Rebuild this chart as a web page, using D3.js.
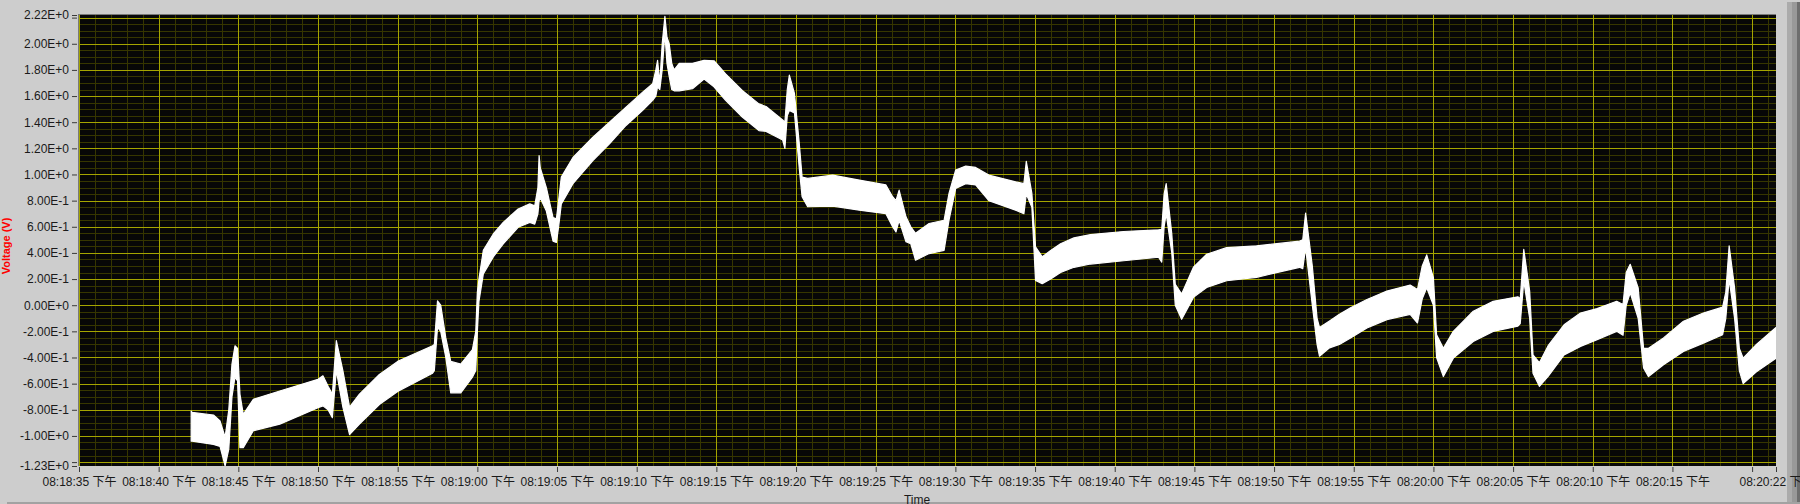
<!DOCTYPE html>
<html><head><meta charset="utf-8">
<script src="https://cdn.jsdelivr.net/npm/d3@7"></script>
<style>html,body{margin:0;padding:0;background:#cdcdcd;overflow:hidden}</style>
</head><body><svg id="c" width="1800" height="504"></svg>
<script>
// ---- data (seconds after 08:18:35 PM) ----
const startClock = [20, 18, 35];
const endSeconds = 106.5;
const timeSec = [7.04,7.1,8.44,8.85,9.17,9.4,9.6,9.79,9.95,10.1,10.31,10.94,12.6,15.0,15.31,15.63,15.9,16.15,16.56,16.98,17.6,18.85,20,22.19,22.3,22.5,22.7,23.02,23.33,23.96,24.69,24.9,25.0,25.1,25.375,26.0,26.625,27.56,28.29,28.6,28.8,28.875,28.95,29.33,29.75,29.96,30.1,30.27,31.0,32.25,33.29,34.33,35.375,36.0,36.2,36.31,36.45,36.6,36.77,36.9,37.04,37.2,37.35,37.67,38.5,39.23,39.85,40.58,41.625,42.67,43.12,44.16,44.3,44.45,44.58,44.9,45.2,45.38,45.73,47.3,48.97,50.64,51.06,51.27,51.47,51.9,52.2,52.5,53.35,54.29,54.6,55.02,55.65,56.27,57.1,58.78,59.3,59.45,59.8,60.03,60.45,60.98,61.6,62.44,63.48,65.56,67.75,67.95,68.1,68.23,68.58,68.8,69.2,69.94,70.77,72.02,73.9,76.6,76.8,76.98,77.4,77.7,77.85,78.48,79.1,79.8,80.83,82.08,83.54,84.0,84.3,84.58,85.0,85.2,85.625,86.25,87.5,88.75,90.3,90.45,90.67,91.04,91.25,91.65,92.2,93.2,94.23,95.27,96.5,96.9,97.1,97.35,97.85,98.19,98.5,99.44,100.69,101.94,103.15,103.35,103.56,103.9,104.2,104.44,105.27,106.5];
const voltHigh = [-0.81,-0.82,-0.84,-0.886,-1.01,-0.8,-0.45,-0.31,-0.33,-0.68,-0.835,-0.72,-0.656,-0.567,-0.54,-0.62,-0.68,-0.27,-0.5,-0.78,-0.68,-0.53,-0.43,-0.31,-0.3,0.033,0.0,-0.25,-0.43,-0.45,-0.34,-0.2,0.1,0.2,0.42,0.545,0.634,0.736,0.775,0.76,0.9,1.145,1.05,0.9,0.67,0.66,0.8,0.98,1.13,1.285,1.4,1.515,1.63,1.694,1.8,1.873,1.7,2.0,2.21,2.05,2.0,1.85,1.8,1.85,1.85,1.873,1.87,1.77,1.643,1.54,1.52,1.417,1.4,1.65,1.76,1.62,1.24,0.98,0.97,0.995,0.957,0.92,0.83,0.8,0.88,0.676,0.6,0.55,0.625,0.65,0.855,1.034,1.064,1.054,0.995,0.944,0.93,1.1,0.855,0.446,0.37,0.418,0.47,0.515,0.54,0.564,0.577,0.58,0.85,0.93,0.546,0.16,0.085,0.29,0.39,0.44,0.454,0.49,0.5,0.705,0.3,-0.1,-0.17,-0.12,-0.07,-0.02,0.044,0.108,0.154,0.12,0.3,0.385,0.21,-0.226,-0.33,-0.2,-0.046,0.03,0.064,0.05,0.428,0.108,-0.38,-0.44,-0.31,-0.15,-0.06,-0.026,0.03,0.005,0.25,0.313,0.133,-0.33,-0.33,-0.25,-0.123,-0.06,-0.015,0.1,0.454,0.133,-0.33,-0.405,-0.3,-0.17];
const voltLow = [-1.04,-1.04,-1.065,-1.08,-1.23,-1.1,-0.7,-0.55,-0.58,-1.09,-1.09,-0.96,-0.91,-0.784,-0.77,-0.8,-0.86,-0.5,-0.78,-0.99,-0.91,-0.76,-0.66,-0.52,-0.5,-0.17,-0.2,-0.4,-0.67,-0.67,-0.55,-0.5,-0.2,0.03,0.24,0.37,0.47,0.596,0.634,0.62,0.7,0.8,0.82,0.72,0.49,0.48,0.6,0.775,0.93,1.107,1.235,1.375,1.49,1.567,1.6,1.67,1.65,1.8,2.08,1.85,1.75,1.65,1.64,1.64,1.656,1.73,1.67,1.567,1.44,1.336,1.33,1.264,1.2,1.45,1.49,1.47,1.05,0.83,0.753,0.758,0.727,0.70,0.6,0.56,0.65,0.485,0.47,0.344,0.395,0.42,0.65,0.893,0.93,0.92,0.8,0.727,0.70,0.85,0.75,0.19,0.165,0.2,0.25,0.29,0.315,0.34,0.367,0.33,0.6,0.7,0.4,0.0,-0.108,0.06,0.136,0.187,0.213,0.29,0.28,0.44,0.0,-0.3,-0.39,-0.326,-0.3,-0.25,-0.174,-0.11,-0.07,-0.136,0.05,0.133,0.0,-0.4,-0.546,-0.405,-0.277,-0.2,-0.16,-0.14,0.185,-0.1,-0.52,-0.62,-0.545,-0.38,-0.315,-0.264,-0.2,-0.23,0.0,0.095,-0.1,-0.48,-0.546,-0.456,-0.354,-0.29,-0.226,-0.1,0.2,-0.1,-0.5,-0.6,-0.51,-0.405];

const yDomain = [-1.23, 2.22];
const yTickValues = [2.22,2.0,1.8,1.6,1.4,1.2,1.0,0.8,0.6,0.4,0.2,0.0,-0.2,-0.4,-0.6,-0.8,-1.0,-1.23];
const yTickLabels = ["2.22E+0","2.00E+0","1.80E+0","1.60E+0","1.40E+0","1.20E+0","1.00E+0","8.00E-1","6.00E-1","4.00E-1","2.00E-1","0.00E+0","-2.00E-1","-4.00E-1","-6.00E-1","-8.00E-1","-1.00E+0","-1.23E+0"];
const yExtraTicks = [2.2, -1.2];
const xTickSec = [0,5,10,15,20,25,30,35,40,45,50,55,60,65,70,75,80,85,90,95,100,105,106.5];
const xTickLabels = ["08:18:35 下午","08:18:40 下午","08:18:45 下午","08:18:50 下午","08:18:55 下午","08:19:00 下午","08:19:05 下午","08:19:10 下午","08:19:15 下午","08:19:20 下午","08:19:25 下午","08:19:30 下午","08:19:35 下午","08:19:40 下午","08:19:45 下午","08:19:50 下午","08:19:55 下午","08:20:00 下午","08:20:05 下午","08:20:10 下午","08:20:15 下午","","08:20:22 下午"];
const yAxisTitle = "Voltage (V)";
const xAxisTitle = "Time";

// ---- layout ----
const L = 79, T = 15, R = 1776, B = 466;
const svg = d3.select("#c");
const base = new Date(2020, 0, 1, startClock[0], startClock[1], startClock[2]);
const toDate = s => new Date(base.getTime() + s * 1000);
const x = d3.scaleTime().domain([toDate(0), toDate(endSeconds)]).range([L, R]);
const y = d3.scaleLinear().domain(yDomain).range([B, T]);
const font = "'Liberation Sans', Arial, 'Noto Sans CJK SC', sans-serif";

// frame decorations
svg.append("rect").attr("x",0).attr("y",0).attr("width",1800).attr("height",504).attr("fill","#cdcdcd");
svg.append("rect").attr("x",1787).attr("y",2).attr("width",5).attr("height",500).attr("fill","#ababab");
svg.append("rect").attr("x",1792).attr("y",2).attr("width",5).attr("height",500).attr("fill","#999999");
svg.append("rect").attr("x",1797).attr("y",2).attr("width",3).attr("height",500).attr("fill","#6e6e6e");
svg.append("rect").attr("x",7).attr("y",502).attr("width",1793).attr("height",2).attr("fill","#a2a2a2");

// plot background
svg.append("rect").attr("x",L).attr("y",T).attr("width",R-L).attr("height",B-T).attr("fill","#070707");
svg.append("line").attr("x1",L-0.5).attr("x2",L-0.5).attr("y1",T-1).attr("y2",B).attr("stroke","#7a7a7a");
svg.append("line").attr("x1",L-1).attr("x2",R).attr("y1",T-0.5).attr("y2",T-0.5).attr("stroke","#7a7a7a");

svg.append("clipPath").attr("id","pc").append("rect").attr("x",L).attr("y",T).attr("width",R-L).attr("height",B-T);
const g = svg.append("g").attr("clip-path","url(#pc)");

// grid
const minorX = d3.range(0, endSeconds + 0.01, 1).filter(s => s % 5 !== 0);
const majorX = d3.range(0, endSeconds + 0.01, 5);
const minorY = d3.range(-24, 45).map(i => i * 0.05).filter(v => Math.abs(Math.round(v*100) % 20) !== 0);
const majorY = d3.range(-6, 12).map(i => i * 0.2);
const cr = v => Math.round(v) + 0.5;
g.selectAll(".mx").data(minorX).join("line").attr("x1",d=>cr(x(toDate(d)))).attr("x2",d=>cr(x(toDate(d)))).attr("y1",T).attr("y2",B).attr("stroke","#363600");
g.selectAll(".my").data(minorY).join("line").attr("y1",d=>cr(y(d))).attr("y2",d=>cr(y(d))).attr("x1",L).attr("x2",R).attr("stroke","#363600");
g.selectAll(".Mx").data(majorX).join("line").attr("x1",d=>cr(x(toDate(d)))).attr("x2",d=>cr(x(toDate(d)))).attr("y1",T).attr("y2",B).attr("stroke","#a5a500");
g.selectAll(".My").data(majorY).join("line").attr("y1",d=>cr(y(d))).attr("y2",d=>cr(y(d))).attr("x1",L).attr("x2",R).attr("stroke","#a5a500");

// data band
const pts = timeSec.map((t, i) => ({t, hi: voltHigh[i], lo: voltLow[i]}));
const area = d3.area().x(d => x(toDate(d.t))).y0(d => y(d.lo)).y1(d => y(d.hi)).curve(d3.curveLinear);
g.append("path").datum(pts).attr("d", area).attr("fill","#ffffff").attr("stroke","#ffffff").attr("stroke-width",1.2).attr("stroke-linejoin","round");

// y axis
const yAxis = d3.axisLeft(y).tickValues(yTickValues.concat(yExtraTicks))
  .tickFormat(v => { const i = yTickValues.indexOf(v); return i >= 0 ? yTickLabels[i] : ""; })
  .tickSize(5).tickPadding(3);
const ya = svg.append("g").attr("transform",`translate(${L-2},0)`).call(yAxis);
ya.select(".domain").remove();
ya.selectAll("line").attr("stroke","#3a3a3a");
ya.selectAll("text").attr("fill","#1a1a1a").style("font-family",font).style("font-size","12px");

// x axis
const xAxis = d3.axisBottom(x).tickValues(xTickSec.map(toDate))
  .tickFormat((d, i) => xTickLabels[i]).tickSize(5).tickPadding(5.5);
const xa = svg.append("g").attr("transform",`translate(0,${B+1})`).call(xAxis);
xa.select(".domain").remove();
xa.selectAll("line").attr("stroke","#3a3a3a");
xa.selectAll("text").attr("fill","#1a1a1a").style("font-family",font).style("font-size","12px");

// titles
svg.append("text").attr("transform","translate(10,246) rotate(-90)").attr("text-anchor","middle")
  .attr("fill","#ff0000").style("font-family",font).style("font-size","11px").style("font-weight","bold").text(yAxisTitle);
svg.append("text").attr("x",917).attr("y",504).attr("text-anchor","middle")
  .attr("fill","#1a1a1a").style("font-family",font).style("font-size","12px").text(xAxisTitle);
</script></body></html>
